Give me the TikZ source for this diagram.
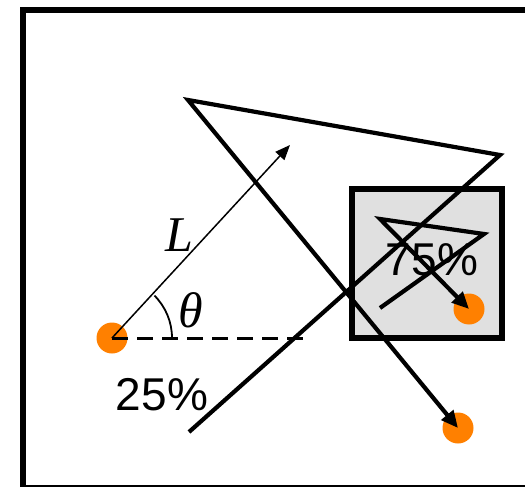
\documentclass[tikz,border=0pt]{standalone}
\usepackage{fontspec}
\setmainfont{Liberation Sans}
\newfontfamily\symfont{Liberation Serif}
\usetikzlibrary{arrows.meta,calc}
\usetikzlibrary{positioning}
\definecolor{dotorange}{RGB}{255,128,0}

\begin{document}
\begin{tikzpicture}[x=1pt,y=1pt,
  dot/.style={circle,fill=dotorange,minimum size=31pt,inner sep=0pt},
  ray/.style={line width=4.2pt},
  pct/.style={font=\fontsize{46}{48}\selectfont,inner sep=0pt},
  sym/.style={font=\fontsize{50}{52}\selectfont\symfont\itshape,inner sep=0pt}]
\useasboundingbox (0,-487) rectangle (525,0);
% outer frame, cut at the right
\draw[line width=6pt] (22.5,-488) -- (22.5,-9.7) -- (530,-9.7);
\draw[line width=3pt] (22.5,-486.5) -- (530,-486.5);
% shaded box
\draw[line width=6pt,fill=black!12] (352,-189) rectangle (502,-338);
% source and detectors
\node[dot] (src) at (112,-338) {};
\node[dot] (hit) at (469,-309) {};
\node[dot] (miss) at (458,-428) {};
% bounce points
\coordinate (start) at (189,-432);
\coordinate (corner) at (500,-155);
\coordinate (apex) at (188,-100);
\coordinate (inA) at (380,-308);
\coordinate (inB) at (484,-234);
\coordinate (inC) at (380,-219);
\coordinate (tipL) at (290,-145);
\coordinate (dashend) at (305,-338);
% long path, escapes
\draw[ray,-{Triangle[length=17pt,width=15pt]}] (start) -- (corner) -- (apex) -- (miss.center);
% short path inside the box
\draw[ray,-{Triangle[length=17pt,width=15pt]}] (inA) -- (inB) -- (inC) -- (hit.center);
% length and angle
\draw[line width=3pt,dash pattern=on 16pt off 9pt] (src.center) -- (dashend);
\draw[line width=1.5pt,-{Triangle[length=15pt,width=12pt]}] (src.center) -- (tipL);
\draw[line width=1.8pt] ($(src.center)+(60,0)$) arc (0:45:60);
\node[sym] (len) at (179,-235) {L};
\node[sym] (ang) at (191,-310) {θ};
\node[pct] (lo) at (162,-395) {25\%};
\node[pct] (hi) at (432,-260) {75\%};
\end{tikzpicture}
\end{document}
